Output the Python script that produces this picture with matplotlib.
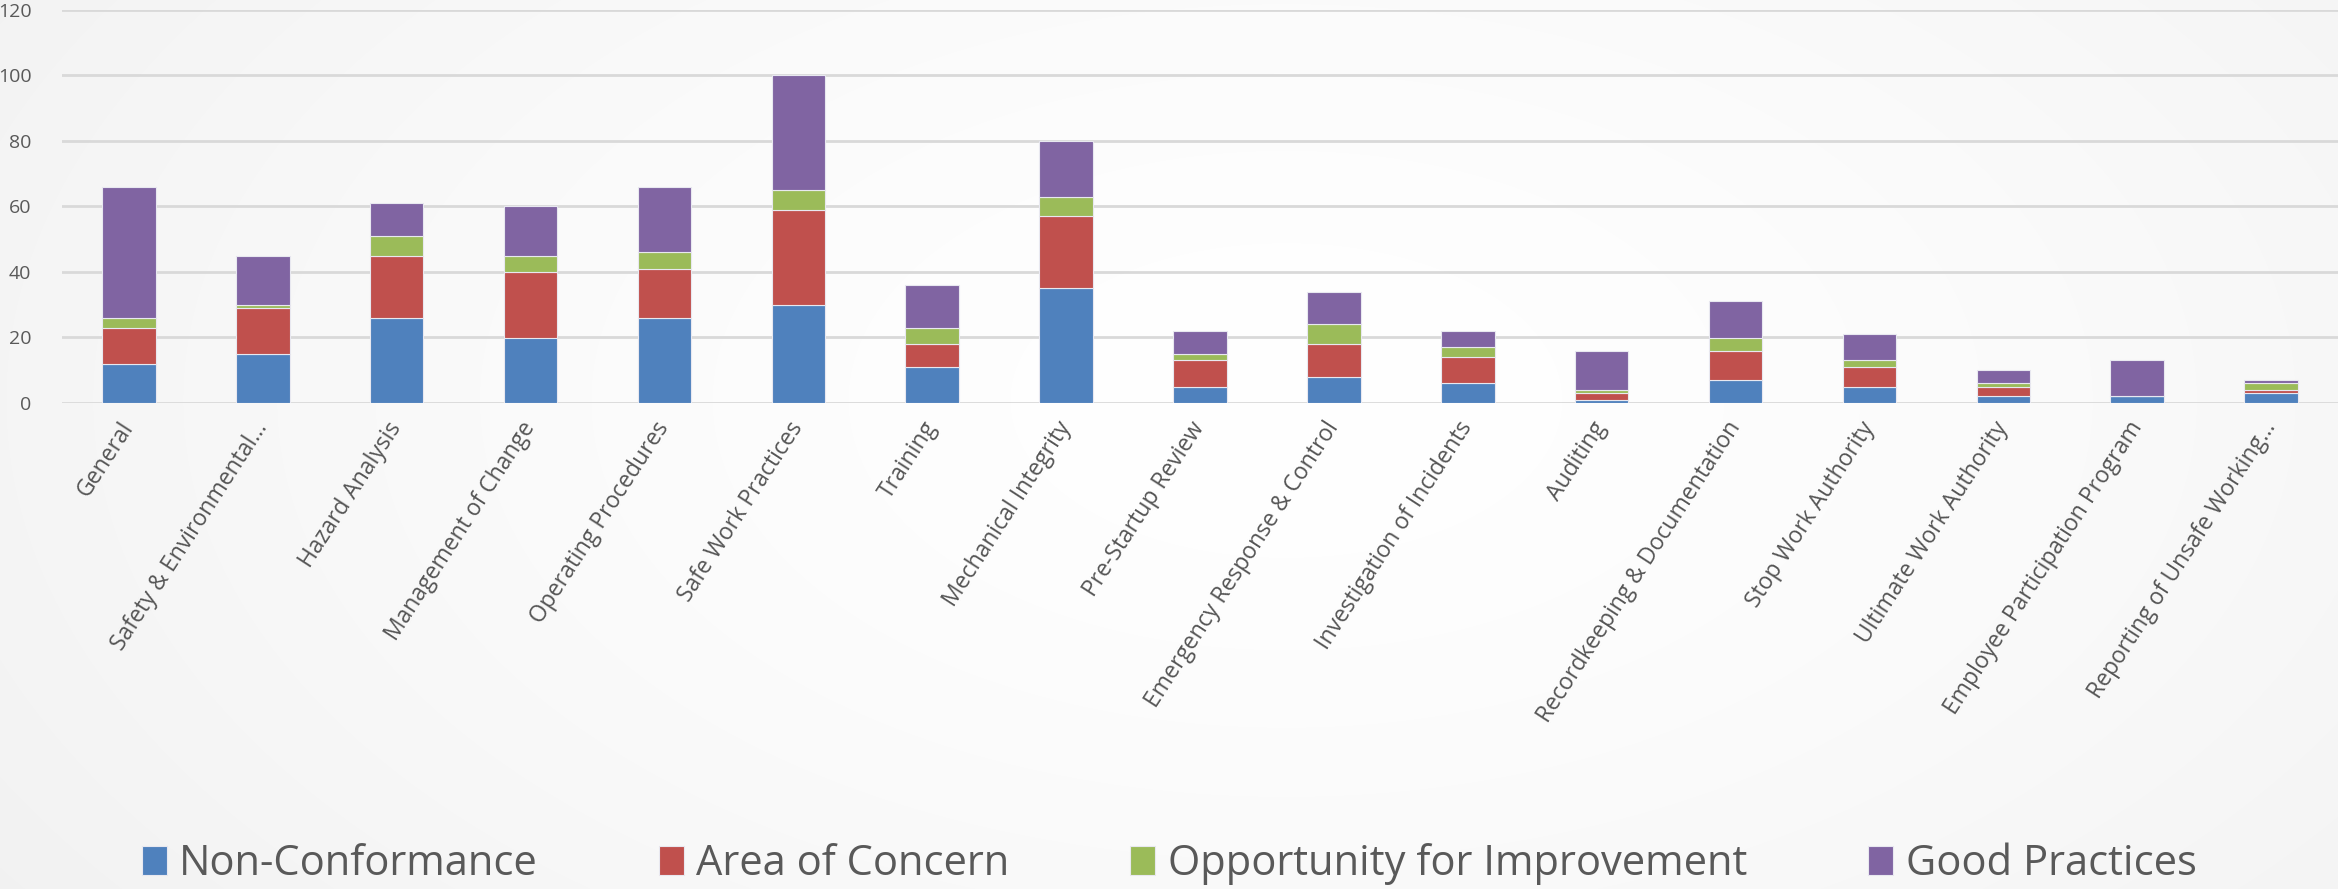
import numpy as np
import matplotlib
matplotlib.use("Agg")
import matplotlib.pyplot as plt

plt.rcParams['font.family'] = ['Open Sans', 'DejaVu Sans']

categories = [
    "General", "Safety & Environmental…", "Hazard Analysis", "Management of Change",
    "Operating Procedures", "Safe Work Practices", "Training", "Mechanical Integrity",
    "Pre-Startup Review", "Emergency Response & Control", "Investigation of Incidents",
    "Auditing", "Recordkeeping & Documentation", "Stop Work Authority",
    "Ultimate Work Authority", "Employee Participation Program", "Reporting of Unsafe Working…",
]
non_conformance = [12, 15, 26, 20, 26, 30, 11, 35, 5, 8, 6, 1, 7, 5, 2, 2, 3]
area_of_concern = [11, 14, 19, 20, 15, 29, 7, 22, 8, 10, 8, 2, 9, 6, 3, 0, 1]
opportunity = [3, 1, 6, 5, 5, 6, 5, 6, 2, 6, 3, 1, 4, 2, 1, 0, 2]
good_practices = [40, 15, 10, 15, 20, 35, 13, 17, 7, 10, 5, 12, 11, 8, 4, 11, 1]

series = [
    ("Non-Conformance", non_conformance, "#4F81BD"),
    ("Area of Concern", area_of_concern, "#C0504D"),
    ("Opportunity for Improvement", opportunity, "#9BBB59"),
    ("Good Practices", good_practices, "#8064A2"),
]

fig = plt.figure(figsize=(23.38, 8.89), dpi=100)
fig.patch.set_facecolor("#f7f7f7")

# soft radial background, lighter in the middle
h, w = 889, 2338
yy, xx = np.mgrid[0:h, 0:w]
r = np.sqrt(((xx - w * 0.55) / (w * 0.6)) ** 2 + ((yy - h * 0.45) / (h * 0.9)) ** 2)
shade = np.clip(1.0 - 0.045 * r ** 1.5, 0.93, 1.0)
fig.figimage(np.dstack([shade, shade, shade]), xo=0, yo=0, zorder=-10)

ax = fig.add_axes([62 / 2338, 1 - 403 / 889, 1 - 62 / 2338, (403 - 10) / 889])
ax.set_facecolor("none")

x = np.arange(len(categories))
bottom = np.zeros(len(categories))
for name, vals, color in series:
    vals = np.array(vals, dtype=float)
    ax.bar(x, vals, width=0.4, bottom=bottom, color=color, label=name,
           edgecolor="#e8e8f0", linewidth=0.8, zorder=3)
    bottom += vals

ax.set_ylim(0, 120)
ax.set_xlim(-0.5, len(categories) - 0.5)
ax.set_yticks(np.arange(0, 121, 20))
ax.yaxis.grid(True, color="#d9d9d9", linewidth=2, zorder=0)
ax.set_axisbelow(True)
for s in ax.spines.values():
    s.set_visible(False)
ax.tick_params(axis="both", length=0, colors="#595959", labelsize=14)
ax.tick_params(axis="y", pad=22)
ax.set_xticks(x)
ax.set_xticklabels(categories, rotation=57, ha="right", va="center",
                   rotation_mode="anchor", fontsize=16.5, color="#555555")
ax.tick_params(axis="x", pad=15)

leg = fig.legend(loc="center", bbox_to_anchor=(0.5, 1 - 864 / 889), ncol=4,
                 frameon=False, fontsize=30, handlelength=0.6, handleheight=0.7,
                 handletextpad=0.3, columnspacing=2.9, labelcolor="#595959")

fig.savefig("out.png", dpi=100, facecolor=fig.get_facecolor())
